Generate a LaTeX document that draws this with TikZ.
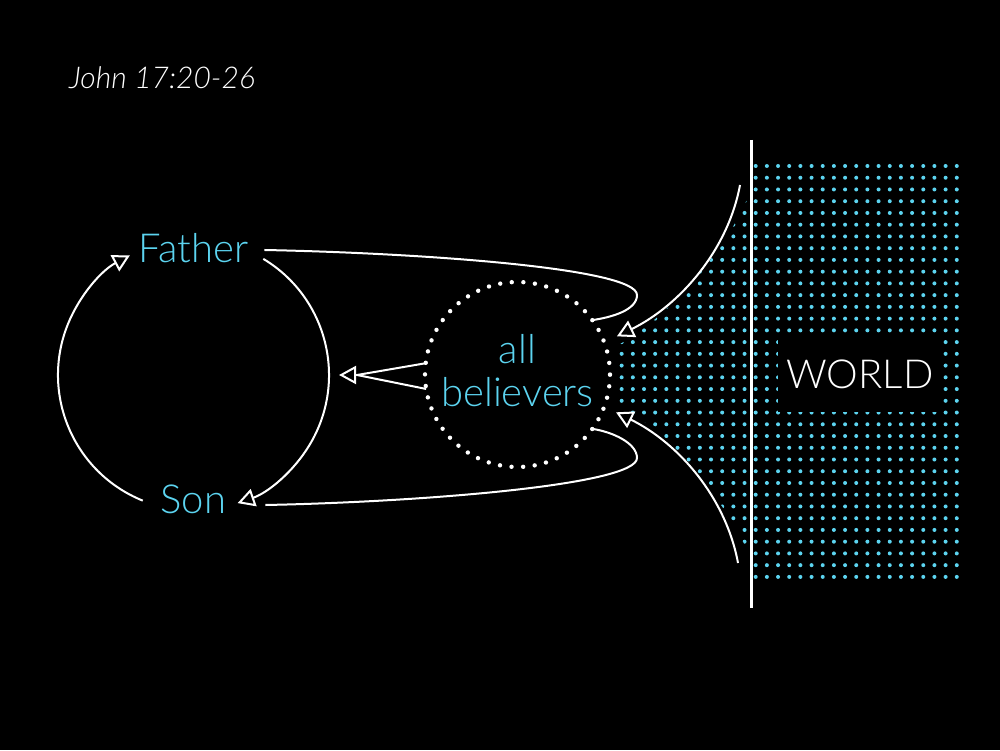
\documentclass[tikz,border=0pt]{standalone}
\usepackage{fontspec}
\setmainfont{Lato}[UprightFont={* Light}, ItalicFont={* Light Italic}]
\usetikzlibrary{arrows.meta}
\definecolor{sky}{RGB}{92,212,240}
\tikzset{
  wire/.style={white, line width=2pt, line join=round},
  open/.style={wire, -{Triangle[open, fill=black, length=17pt, width=18pt]}},
  label/.style={text=sky, font=\fontsize{40}{44}\selectfont, inner sep=0pt},
  ring/.style={circle, minimum size=271pt, inner sep=0pt, outer sep=0pt},
  believers/.style={circle, minimum size=185pt, inner sep=0pt, outer sep=0pt,
    draw=white, line width=4.4pt, dash pattern=on 0pt off 11.62pt, line cap=round,
    text=sky, align=center, text depth=8pt, font=\fontsize{40}{42.3}\selectfont},
  world/.style={fill=black, minimum width=164pt, minimum height=75pt, inner sep=0pt,
    text=white, font=\fontsize{40}{44}\selectfont},
  title/.style={text=white, inner sep=0pt, font=\itshape\fontsize{30}{36}\selectfont},
}
\begin{document}
\begin{tikzpicture}[x=1pt, y=1pt]
  \fill[black] (0,0) rectangle (1000,750);
  \useasboundingbox (0,0) rectangle (1000,750);
  % the world
  \foreach \i in {0,...,18}
    \foreach \j in {0,...,35}
      \fill[sky] (755.7+11.17*\i, 584-11.74*\j) circle (2);
  \begin{scope}
    \clip (616,404) .. controls (670,430) and (740,520) .. (750,560) -- (750,190)
      .. controls (740,230) and (670,320) .. (616,346) -- cycle;
    \foreach \i in {1,...,12}
      \foreach \j in {0,...,35}
        \fill[sky] (755.7-11.17*\i, 584-11.74*\j) circle (2);
  \end{scope}
  \node[world] (World) at (860,375.5) {WORLD};
  \coordinate (edgeTop) at (751.5,610);
  \coordinate (edgeBot) at (751.5,142);
  \draw[white, line width=2.8pt] (edgeTop) -- (edgeBot);

  \node[title, anchor=base west] (ref) at (69,661.7) {John 17:20-26};

  % Father and Son
  \node[ring] (ring) at (193.5,375) {};
  \node[label] (Father) at (193.5,502) {Father};
  \node[label] (Son) at (193.5,251) {Son};
  \draw[open] (ring.248) arc[start angle=248, end angle=118, radius=135.5];
  \draw[open] (ring.59) arc[start angle=59, end angle=-71, radius=135.5];

  % believers
  \node[believers] (believers) at (517.5,375.5) {all\\believers};
  \draw[wire] ([xshift=16, yshift=-2]Father.east) .. controls +(154,-3) and +(0,27) .. (637,455)
    .. controls +(0,-15) and +(20,3) .. (believers.36);
  \draw[wire] ([xshift=39, yshift=-6]Son.east) .. controls +(154,3) and +(0,-27) .. (637,292)
    .. controls +(0,15) and +(20,-3) .. (believers.-36);
  \coordinate (fork) at ([xshift=28]ring.east);
  \draw[wire] (believers.173) -- (fork) -- (believers.189);
  \draw[open] (fork) -- ([xshift=10]ring.east);

  % from the world
  \coordinate (w1) at (740,565);
  \coordinate (w2) at (738,187);
  \draw[open] (w1) .. controls +(-12,-65) and +(63,31) .. ([shift={(21:14)}]believers.21);
  \draw[open] (w2) .. controls +(-12,65) and +(63,-31) .. ([shift={(-21:13)}]believers.-21);
\end{tikzpicture}
\end{document}
